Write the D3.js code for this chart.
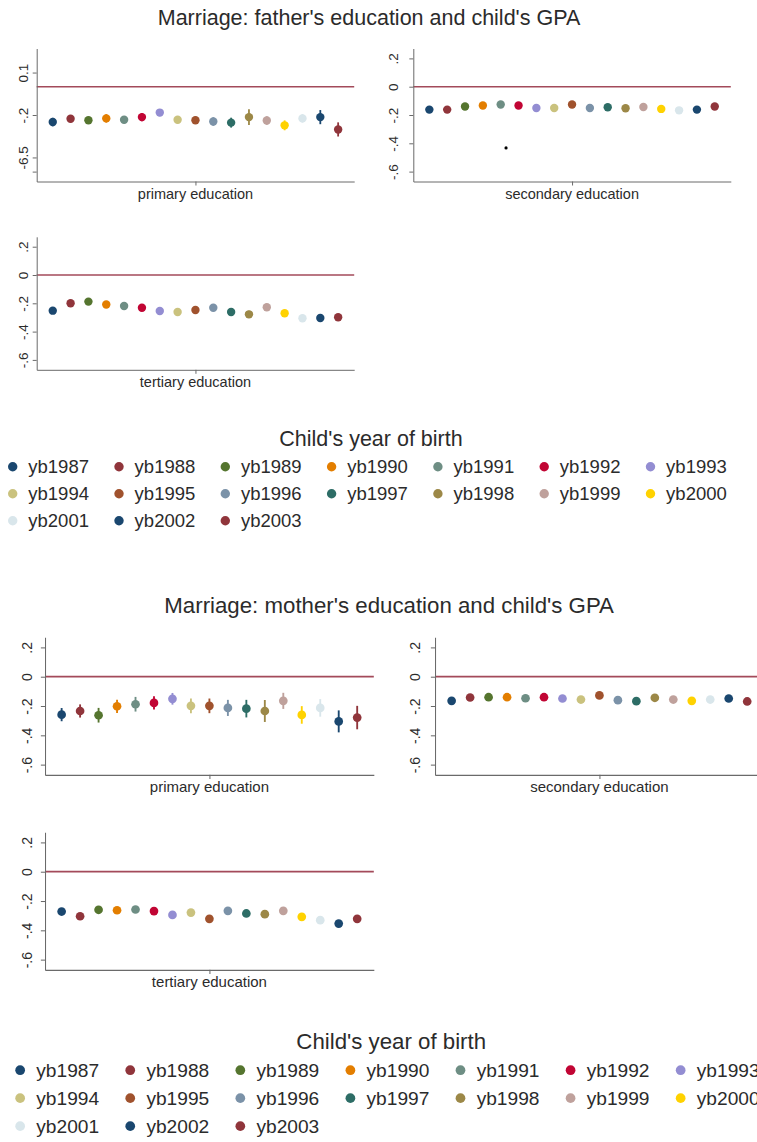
<!DOCTYPE html>
<html>
<head>
<meta charset="utf-8">
<script src="https://cdn.jsdelivr.net/npm/d3@7"></script>
<style>
  body { margin: 0; background: #fff; }
  svg { display: block; font-family: "Liberation Sans", Arial, sans-serif; }
</style>
</head>
<body>
<script>
// categories (child's year of birth)
var years = ["yb1987","yb1988","yb1989","yb1990","yb1991","yb1992","yb1993","yb1994","yb1995",
             "yb1996","yb1997","yb1998","yb1999","yb2000","yb2001","yb2002","yb2003"];
var colors = ["#1a476f","#90353b","#55752f","#e37e00","#6e8e84","#c10534","#938dd2","#cac27e","#a0522d",
              "#7b92a8","#2d6d66","#9c8847","#bfa19c","#ffd200","#d9e6eb","#1a476f","#90353b"];

// father's education (top graph)
var fPrimary    = [-0.250,-0.227,-0.237,-0.224,-0.234,-0.215,-0.183,-0.234,-0.237,-0.246,-0.254,-0.215,-0.239,-0.273,-0.224,-0.215,-0.302];
var fPrimaryCI  = [0.030,0.025,0.020,0.030,0.025,0.030,0.025,0.025,0.025,0.030,0.035,0.055,0.030,0.035,0.030,0.050,0.050];
var fSecondary  = [-0.162,-0.162,-0.140,-0.133,-0.126,-0.133,-0.150,-0.150,-0.126,-0.150,-0.145,-0.152,-0.143,-0.157,-0.167,-0.162,-0.140];
var fSecondaryCI= [0.012,0.012,0.012,0.012,0.012,0.012,0.012,0.012,0.012,0.012,0.012,0.012,0.012,0.012,0.012,0.012,0.012];
var fTertiary   = [-0.252,-0.200,-0.188,-0.209,-0.219,-0.231,-0.254,-0.261,-0.247,-0.231,-0.261,-0.278,-0.228,-0.270,-0.306,-0.304,-0.299];
var fTertiaryCI = [0.018,0.018,0.018,0.018,0.018,0.018,0.018,0.018,0.020,0.018,0.018,0.025,0.018,0.020,0.020,0.020,0.020];
var fStray = [{x: 5.3, y: -0.433}];

// mother's education (bottom graph)
var mPrimary    = [-0.259,-0.234,-0.263,-0.202,-0.188,-0.179,-0.151,-0.199,-0.199,-0.213,-0.218,-0.234,-0.165,-0.261,-0.213,-0.305,-0.279];
var mPrimaryCI  = [0.045,0.045,0.050,0.045,0.050,0.045,0.040,0.050,0.050,0.055,0.060,0.075,0.055,0.060,0.060,0.075,0.080];
var mSecondary  = [-0.165,-0.142,-0.140,-0.140,-0.147,-0.140,-0.149,-0.156,-0.128,-0.160,-0.167,-0.144,-0.156,-0.165,-0.156,-0.149,-0.169];
var mSecondaryCI= [0.012,0.012,0.012,0.012,0.012,0.012,0.012,0.012,0.012,0.012,0.012,0.012,0.012,0.012,0.012,0.012,0.012];
var mTertiary   = [-0.272,-0.304,-0.260,-0.263,-0.258,-0.269,-0.295,-0.279,-0.322,-0.267,-0.285,-0.290,-0.267,-0.308,-0.331,-0.354,-0.322];
var mTertiaryCI = [0.015,0.015,0.015,0.015,0.015,0.015,0.015,0.015,0.015,0.015,0.015,0.015,0.015,0.015,0.015,0.015,0.015];

// y tick labels
var yTicks = [0.2, 0, -0.2, -0.4, -0.6];
var yTickLabels = [".2", "0", "-.2", "-.4", "-.6"];
var oddTicks = [0.1, -0.2, -0.5, -0.6];           // top-left panel of the father graph
var oddTickLabels = ["0.1", "-.2", "-6.5", ""];

var width = 757, height = 1142;
var plotW = 317.5, plotH = 133;
var colX = [36.7, 413.3], rowY = [48.5, 236.8];
var textColor = "#2b2b2b";

var svg = d3.select("body").append("svg")
    .attr("width", width).attr("height", height);
svg.append("rect").attr("width", width).attr("height", height).attr("fill", "#fff");

var x = d3.scaleLinear().domain([0.1, 17.9]).range([0, plotW]);
var y = d3.scaleLinear().domain([-0.67, 0.27]).range([plotH, 0]);
var idx = years.map(function(d, i) { return i + 1; });

function drawPanel(g, p) {
    var pg = g.append("g").attr("transform", "translate(" + colX[p.col] + "," + rowY[p.row] + ")");

    // zero line
    pg.append("line")
        .attr("x1", 0).attr("x2", plotW)
        .attr("y1", y(0)).attr("y2", y(0))
        .attr("stroke", "#a34a5a").attr("stroke-width", 1.6);

    // y axis
    var ya = pg.append("g").attr("color", "#6a6a6a")
        .call(d3.axisLeft(y).tickValues(p.ticks)
            .tickFormat(function(d, i) { return p.tickLabels[i]; })
            .tickSize(4).tickSizeOuter(0));
    ya.select(".domain").attr("stroke-width", 1);
    ya.selectAll(".tick text")
        .attr("transform", "rotate(-90)")
        .attr("x", 0).attr("y", -p.gap).attr("dy", 0)
        .attr("text-anchor", "middle")
        .attr("fill", textColor)
        .style("font-size", "13.5px").style("font-family", "Liberation Sans, Arial, sans-serif");

    // x axis with the single centre tick
    pg.append("g").attr("color", "#6a6a6a")
        .attr("transform", "translate(0," + plotH + ")")
        .call(d3.axisBottom(x).tickValues([9]).tickFormat("").tickSize(4).tickSizeOuter(0));

    pg.append("text")
        .attr("x", x(9)).attr("y", plotH + 17)
        .attr("text-anchor", "middle")
        .attr("fill", textColor)
        .style("font-size", "14.5px")
        .text(p.label);

    // confidence intervals
    pg.selectAll("line.ci")
        .data(idx)
        .enter().append("line")
        .attr("class", "ci")
        .attr("x1", function(d) { return x(d); })
        .attr("x2", function(d) { return x(d); })
        .attr("y1", function(d, i) { return y(p.values[i] - p.ci[i]); })
        .attr("y2", function(d, i) { return y(p.values[i] + p.ci[i]); })
        .attr("stroke", function(d, i) { return colors[i]; })
        .attr("stroke-width", 1.8);

    pg.selectAll("circle.pt")
        .data(idx)
        .enter().append("circle")
        .attr("class", "pt")
        .attr("cx", function(d) { return x(d); })
        .attr("cy", function(d, i) { return y(p.values[i]); })
        .attr("r", 4.2)
        .attr("fill", function(d, i) { return colors[i]; });

    if (p.stray) {
        pg.selectAll("circle.stray")
            .data(p.stray)
            .enter().append("circle")
            .attr("class", "stray")
            .attr("cx", function(d) { return x(d.x); })
            .attr("cy", function(d) { return y(d.y); })
            .attr("r", 1.6)
            .attr("fill", "#000");
    }
}

function drawFigure(g, fig) {
    g.append("text")
        .attr("x", 369).attr("y", 25)
        .attr("text-anchor", "middle")
        .attr("fill", textColor)
        .style("font-size", "21.5px")
        .text(fig.title);

    fig.panels.forEach(function(p) { drawPanel(g, p); });

    g.append("text")
        .attr("x", 371).attr("y", 446)
        .attr("text-anchor", "middle")
        .attr("fill", textColor)
        .style("font-size", "21.5px")
        .text("Child's year of birth");

    var items = g.selectAll("g.key")
        .data(years)
        .enter().append("g")
        .attr("class", "key")
        .attr("transform", function(d, i) {
            return "translate(" + (12.7 + (i % 7) * 106.3) + "," + (466.7 + Math.floor(i / 7) * 27) + ")";
        });
    items.append("circle")
        .attr("r", 4.7)
        .attr("fill", function(d, i) { return colors[i]; });
    items.append("text")
        .attr("x", 15.6).attr("dy", "0.36em")
        .attr("fill", textColor)
        .style("font-size", "18.5px")
        .text(function(d) { return d; });
}

var fatherG = svg.append("g");
drawFigure(fatherG, {
    title: "Marriage: father's education and child's GPA",
    panels: [
        {label: "primary education", col: 0, row: 0, values: fPrimary, ci: fPrimaryCI, ticks: oddTicks, tickLabels: oddTickLabels, gap: 9},
        {label: "secondary education", col: 1, row: 0, values: fSecondary, ci: fSecondaryCI, ticks: yTicks, tickLabels: yTickLabels, gap: 15, stray: fStray},
        {label: "tertiary education", col: 0, row: 1, values: fTertiary, ci: fTertiaryCI, ticks: yTicks, tickLabels: yTickLabels, gap: 9}
    ]
});

// the mother graph is the same layout, a little larger and cut at the right edge
var motherG = svg.append("g").attr("transform", "translate(7,586.9) scale(1.0356)");
drawFigure(motherG, {
    title: "Marriage: mother's education and child's GPA",
    panels: [
        {label: "primary education", col: 0, row: 0, values: mPrimary, ci: mPrimaryCI, ticks: yTicks, tickLabels: yTickLabels, gap: 13},
        {label: "secondary education", col: 1, row: 0, values: mSecondary, ci: mSecondaryCI, ticks: yTicks, tickLabels: yTickLabels, gap: 14.5},
        {label: "tertiary education", col: 0, row: 1, values: mTertiary, ci: mTertiaryCI, ticks: yTicks, tickLabels: yTickLabels, gap: 13}
    ]
});
</script>
</body>
</html>
